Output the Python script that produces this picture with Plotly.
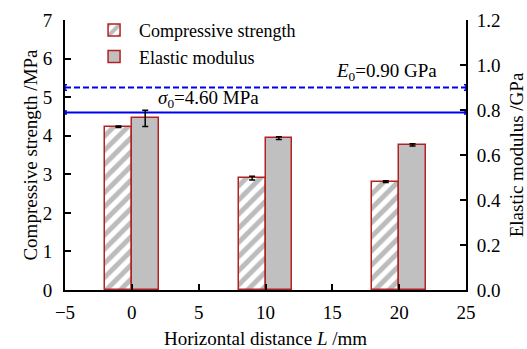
import plotly.graph_objects as go

# Data
positions = [0, 10, 20]
comp_x = [-1, 9, 19]
elas_x = [1, 11, 21]
comp_strength = [4.23, 2.90, 2.81]
comp_err = [0.02, 0.05, 0.02]
elastic_mod = [0.763, 0.675, 0.645]
elastic_err = [0.036, 0.006, 0.005]
sigma0 = 4.60
E0 = 0.90
line_x = [-5, 25]

FONT = "Liberation Serif"
FS = 19
RED = "#b22222"

fig = go.Figure()
fig.add_trace(go.Bar(
    x=comp_x, y=comp_strength, width=2, name="Compressive strength",
    marker=dict(color="white", line=dict(color=RED, width=1.5),
                pattern=dict(shape="/", fgcolor="#7a7a7a", bgcolor="white", size=10, solidity=0.5)),
    error_y=dict(type="data", array=comp_err, color="black", thickness=1.5, width=3),
    yaxis="y"))
fig.add_trace(go.Bar(
    x=elas_x, y=elastic_mod, width=2, name="Elastic modulus",
    marker=dict(color="#c0c0c0", line=dict(color=RED, width=1.5)),
    error_y=dict(type="data", array=elastic_err, color="black", thickness=1.5, width=3),
    yaxis="y2"))
fig.add_trace(go.Scatter(
    x=line_x, y=[sigma0, sigma0], mode="lines", showlegend=False,
    line=dict(color="#0000ee", width=2), cliponaxis=False,
    error_y=dict(type="data", array=[0.04, 0.04], color="#0000ee", thickness=1.5, width=2),
    yaxis="y"))
fig.add_trace(go.Scatter(
    x=line_x, y=[E0, E0], mode="lines", showlegend=False,
    line=dict(color="#0000ee", width=2, dash="6px,3px"), cliponaxis=False,
    error_y=dict(type="data", array=[0.012, 0.012], color="#0000ee", thickness=1.5, width=2),
    yaxis="y2"))

fig.add_annotation(x=1.8, y=sigma0, yref="y", xref="x", text="<i>σ</i><sub>0</sub>=4.60 MPa",
                   showarrow=False, xanchor="left", yanchor="bottom", yshift=0,
                   font=dict(family=FONT, size=FS, color="black"))
fig.add_annotation(x=15.1, y=E0, yref="y2", xref="x", text="<i>E</i><sub>0</sub>=0.90 GPa",
                   showarrow=False, xanchor="left", yanchor="bottom", yshift=2,
                   font=dict(family=FONT, size=FS, color="black"))

axis_common = dict(showgrid=False, zeroline=False, showline=True, linecolor="black", linewidth=2,
                   ticks="inside", ticklen=6, tickwidth=2, tickcolor="black", automargin=False,
                   tickfont=dict(family=FONT, size=FS, color="black"))

fig.update_layout(
    width=527, height=349,
    margin=dict(l=65, r=61, t=20, b=59),
    paper_bgcolor="white", plot_bgcolor="white",
    barmode="overlay", bargap=0,
    font=dict(family=FONT, size=FS, color="black"),
    xaxis=dict(range=[-5, 25], tickvals=[-5, 0, 5, 10, 15, 20, 25],
               ticktext=["−5", "0", "5", "10", "15", "20", "25"], ticklabelstandoff=4,
               title=dict(text="Horizontal distance <i>L</i> /mm", font=dict(family=FONT, size=FS), standoff=14),
               **axis_common),
    yaxis=dict(range=[0, 7], dtick=1, ticklabelstandoff=7,
               title=dict(text="Compressive strength /MPa", font=dict(family=FONT, size=FS), standoff=0),
               **axis_common),
    yaxis2=dict(range=[0, 1.2], dtick=0.2, tickformat=".1f", overlaying="y", side="right", ticklabelstandoff=5,
                title=dict(text="Elastic modulus /GPa", font=dict(family=FONT, size=FS), standoff=12),
                **axis_common),
    legend=dict(x=0.06, y=1.03, xanchor="left", yanchor="top", bgcolor="rgba(0,0,0,0)",
                font=dict(family=FONT, size=18), tracegroupgap=0, itemwidth=40),
)

fig.write_html("out.html")
